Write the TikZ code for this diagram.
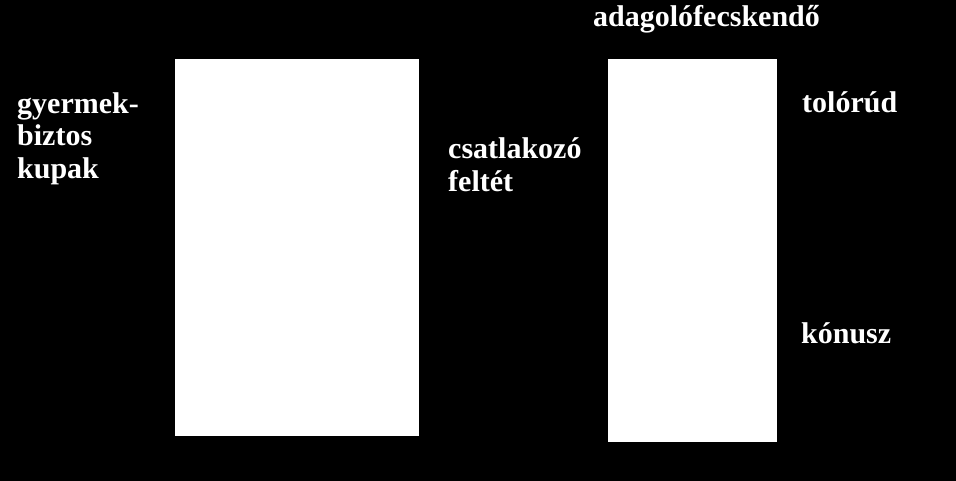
\documentclass[tikz,border=0pt]{standalone}
\usepackage{fontspec}
\setmainfont{Liberation Serif}
\begin{document}
\begin{tikzpicture}[x=1pt,y=-1pt,
  lbl/.style={anchor=base west,inner sep=0pt,text=white,font=\fontsize{30}{33}\selectfont\bfseries},
  part/.style={fill=white,draw=none}]
\useasboundingbox[fill=black] (0,0) rectangle (956,481);
\fill[part] (175,59) rectangle (419,436) coordinate (capR);
\fill[part] (608,59) rectangle (777,442) coordinate (synR);
\node[lbl] (gy) at (17,114) {gyermek-};
\node[lbl] (bi) at (17,146) {biztos};
\node[lbl] (ku) at (17,179) {kupak};
\node[lbl] (cs) at (448,159) {csatlakozó};
\node[lbl] (fe) at (448,192) {feltét};
\node[lbl] (ad) at (593,27) {adagolófecskendő};
\node[lbl] (to) at (802,113) {tolórúd};
\node[lbl] (ko) at (801,343) {kónusz};
\end{tikzpicture}
\end{document}
